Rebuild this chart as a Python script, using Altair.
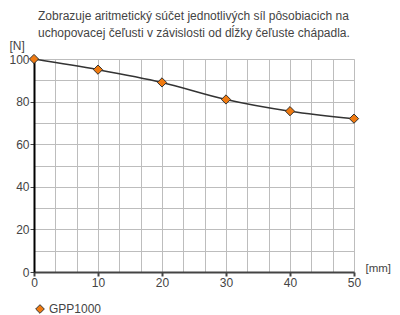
import altair as alt
import pandas as pd

length_mm = [0, 10, 20, 30, 40, 50]
force_n = [100, 95, 89, 81, 75.5, 72]
series = ["GPP1000"] * 6
x_grid = [i * 10 / 3 for i in range(16)]
y_grid = [i * 10 for i in range(11)]
title_lines = [
    "Zobrazuje aritmetický súčet jednotlivých síl pôsobiacich na",
    "uchopovacej čeľusti v závislosti od dĺžky čeľuste chápadla.",
]

df = pd.DataFrame({"x": length_mm, "y": force_n, "s": series})

FONT = "Liberation Sans"
TXT = "#444444"

xaxis = alt.Axis(
    values=x_grid,
    labelExpr="abs(datum.value % 10) < 0.01 ? datum.label : ''",
    format=".0f",
    grid=True,
    gridColor="#bdbdbd",
    gridWidth=1,
    domainColor="#444444",
    domainWidth=2,
    tickColor="#444444",
    tickWidth=2,
    tickSize=4,
    tickOpacity={"condition": {"test": "abs(datum.value % 10) < 0.01", "value": 1}, "value": 0},
    labelFont=FONT,
    labelFontSize=12,
    labelColor=TXT,
    labelPadding=1,
    labelFlush=False,
    labelOverlap=False,
    title="[mm]",
    titleFont=FONT,
    titleFontSize=11.5,
    titleFontWeight="normal",
    titleColor=TXT,
    titleAngle=0,
    titleAlign="left",
    titleBaseline="middle",
    titleX=331,
    titleY=-4,
)

yaxis = alt.Axis(
    values=y_grid,
    labelExpr="datum.value % 20 === 0 ? datum.label : ''",
    grid=True,
    gridColor="#bdbdbd",
    gridWidth=1,
    domainColor="#000000",
    domainWidth=2,
    tickColor="#444444",
    tickWidth=1,
    tickSize=4,
    tickOpacity={"condition": {"test": "datum.value % 20 === 0", "value": 1}, "value": 0},
    labelFont=FONT,
    labelFontSize=12,
    labelColor=TXT,
    labelPadding=1,
    labelOverlap=False,
    title="[N]",
    titleFont=FONT,
    titleFontSize=12,
    titleFontWeight="normal",
    titleColor=TXT,
    titleAngle=0,
    titleAlign="left",
    titleBaseline="middle",
    titleX=-25,
    titleY=-14,
)

x = alt.X("x:Q", scale=alt.Scale(domain=[0, 50], nice=False), axis=xaxis)
y = alt.Y("y:Q", scale=alt.Scale(domain=[0, 100], nice=False), axis=yaxis)

line = alt.Chart(df).mark_line(
    color="#333333", strokeWidth=1.5, interpolate="monotone"
).encode(x=x, y=y)

points = alt.Chart(df).mark_point(
    shape="diamond", filled=True, size=85, opacity=1,
    stroke="#333333", strokeWidth=1
).encode(
    x=x,
    y=y,
    color=alt.Color(
        "s:N",
        scale=alt.Scale(range=["#f07a10"]),
        legend=alt.Legend(
            title=None,
            orient="none",
            legendX=0,
            legendY=244,
            symbolType="diamond",
            symbolSize=75,
            symbolStrokeColor="#333333",
            symbolStrokeWidth=1,
            labelFont=FONT,
            labelFontSize=12,
            labelColor=TXT,
            labelOffset=3,
        ),
    ),
)

chart = (
    alt.layer(line, points)
    .properties(
        width=320,
        height=213,
        autosize=alt.AutoSizeParams(type="none"),
        padding={"left": 26, "top": 51, "right": 38, "bottom": 43},
        title=alt.Title(
            text=title_lines,
            anchor="start",
            frame="group",
            dx=4,
            dy=20.5,
            offset=20,
            font=FONT,
            fontSize=12,
            fontWeight="normal",
            color=TXT,
            lineHeight=17,
        ),
    )
    .configure_view(stroke=None)
    .configure(background="white")
)

chart.save("out.html", embed_options={"renderer": "svg", "actions": False})
